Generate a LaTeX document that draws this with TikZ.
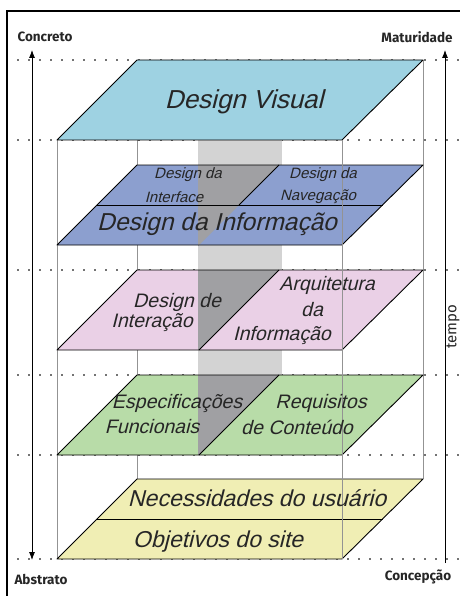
\documentclass[tikz,border=0pt]{standalone}
\usepackage{fontspec}
\setmainfont{Fira Sans}
\newfontfamily\planefont{Liberation Sans}[FakeSlant=0.25]
\usetikzlibrary{arrows.meta}
\definecolor{visual}{RGB}{158,210,226}
\definecolor{informacao}{RGB}{140,159,207}
\definecolor{interacao}{RGB}{234,208,230}
\definecolor{funcional}{RGB}{184,220,168}
\definecolor{usuario}{RGB}{240,238,180}
\definecolor{faixa}{RGB}{211,211,211}
\definecolor{faixaescura}{RGB}{160,160,163}
\tikzset{ponta/.tip={Latex[length=8pt,width=6pt]}}
\begin{document}
\begin{tikzpicture}[x=1pt,y=-1pt,
	plane/.style={draw=black,line width=0.9pt,line join=round},
	guide/.style={draw=gray!85,line width=0.7pt},
	dots/.style={draw=gray!90!black,line width=1.6pt,dash pattern=on 1.6pt off 9.4pt},
	eixo/.style={line width=0.8pt},
	rotulo/.style={font=\bfseries\fontsize{13.5}{15}\selectfont,text=black!85,inner sep=0pt},
	texto/.style={font=\planefont\fontsize{#1}{#1}\selectfont,text=black!85,inner sep=0pt}]
	\useasboundingbox (0,0) rectangle (460,596);
	% moldura
	\coordinate (F1) at (7,596);
	\coordinate (F2) at (7,11);
	\coordinate (F3) at (460,11);
	\draw [line width=2pt] (F1) -- (F2) -- (F3);
	% linhas pontilhadas
	\draw [dots] (17,60) -- (460,60);
	\draw [dots] (17,140) -- (460,140);
	\draw [dots] (17,270) -- (460,270);
	\draw [dots] (17,375) -- (460,375);
	\draw [dots] (17,455) -- (460,455);
	\draw [dots] (17,559) -- (460,559);
	% planos
	\coordinate (A1) at (137,60);
	\coordinate (B1) at (423,60);
	\coordinate (C1) at (342,140);
	\coordinate (D1) at (57,140);
	\coordinate (A2) at (137,165);
	\coordinate (B2) at (423,165);
	\coordinate (C2) at (342,245);
	\coordinate (D2) at (57,245);
	\coordinate (M2) at (97,205);
	\coordinate (N2) at (383,205);
	\coordinate (P2) at (279,165);
	\coordinate (Q2) at (239,205);
	\coordinate (A3) at (137,270);
	\coordinate (B3) at (423,270);
	\coordinate (C3) at (342,350);
	\coordinate (D3) at (57,350);
	\coordinate (P3) at (279,270);
	\coordinate (Q3) at (199,350);
	\coordinate (A4) at (137,375);
	\coordinate (B4) at (423,375);
	\coordinate (C4) at (342,455);
	\coordinate (D4) at (57,455);
	\coordinate (P4) at (279,375);
	\coordinate (Q4) at (199,455);
	\coordinate (A5) at (137,479);
	\coordinate (B5) at (423,479);
	\coordinate (C5) at (342,559);
	\coordinate (D5) at (57,559);
	\coordinate (M5) at (97,519);
	\coordinate (N5) at (383,519);
	% arestas de tras
	\draw [guide] (A1) -- (A5);
	\draw [guide] (B1) -- (B5);
	\draw [guide] (D1) -- (D5);
	% faixa cinza
	\fill [faixa] (198,140) rectangle (282,455);
	\fill [visual] (A1) -- (B1) -- (C1) -- (D1) -- cycle;
	\fill [informacao] (A2) -- (B2) -- (C2) -- (D2) -- cycle;
	\fill [interacao] (A3) -- (B3) -- (C3) -- (D3) -- cycle;
	\fill [funcional] (A4) -- (B4) -- (C4) -- (D4) -- cycle;
	\fill [usuario] (A5) -- (B5) -- (C5) -- (D5) -- cycle;
	\fill [faixaescura] (198,165) -- (P2) -- (198,246) -- cycle;
	\fill [faixaescura] (198,270) -- (P3) -- (Q3) -- (198,350) -- cycle;
	\fill [faixaescura] (198,375) -- (P4) -- (Q4) -- (198,455) -- cycle;
	\draw [plane] (A1) -- (B1) -- (C1) -- (D1) -- cycle;
	\draw [plane] (A2) -- (B2) -- (C2) -- (D2) -- cycle;
	\draw [plane] (A3) -- (B3) -- (C3) -- (D3) -- cycle;
	\draw [plane] (A4) -- (B4) -- (C4) -- (D4) -- cycle;
	\draw [plane] (A5) -- (B5) -- (C5) -- (D5) -- cycle;
	\draw [plane] (M2) -- (N2);
	\draw [plane] (P2) -- (Q2);
	\draw [plane] (P3) -- (Q3);
	\draw [plane] (P4) -- (Q4);
	\draw [plane] (M5) -- (N5);
	% aresta da frente
	\draw [guide] (C1) -- (C5);
	% eixos
	\coordinate (E1) at (32,50);
	\coordinate (E2) at (32,560);
	\coordinate (G1) at (445,50);
	\coordinate (G2) at (445,563);
	\draw [eixo,ponta-ponta] (E1) -- (E2);
	\draw [eixo,-ponta] (G2) -- (G1);
	\node [rotulo] (concreto) at (45,37) {Concreto};
	\node [rotulo] (maturidade) at (417,37) {Maturidade};
	\node [rotulo] (abstrato) at (41,579) {Abstrato};
	\node [rotulo] (concepcao) at (418,577) {Concepção};
	\node [font=\fontsize{15}{15}\selectfont,text=black!85,rotate=90,inner sep=0pt] (tempo) at (453,327) {tempo};
	% textos dos planos
	\node [texto=26] (visualtxt) at (244,102) {Design Visual};
	\node [texto=15] (interface1) at (188,175) {Design da};
	\node [texto=15] (interface2) at (174,197) {Interface};
	\node [texto=15] (navegacao1) at (323,175) {Design da};
	\node [texto=15] (navegacao2) at (318,197) {Navegação};
	\node [texto=24.5] (informacaotxt) at (217,224) {Design da Informação};
	\node [texto=19.5] (interacao1) at (177,302) {Design de};
	\node [texto=19.5] (interacao2) at (152,323) {Interação};
	\node [texto=19.5] (arquitetura1) at (327,285) {Arquitetura};
	\node [texto=19.5] (arquitetura2) at (312,310) {da};
	\node [texto=19.5] (arquitetura3) at (282,336) {Informação};
	\node [texto=19.5] (especificacoes1) at (177,403) {Especificações};
	\node [texto=19.5] (especificacoes2) at (152,427) {Funcionais};
	\node [texto=19.5] (requisitos1) at (321,403) {Requisitos};
	\node [texto=19.5] (requisitos2) at (297,427) {de Conteúdo};
	\node [texto=23] (usuariotxt) at (257,498) {Necessidades do usuário};
	\node [texto=23] (objetivostxt) at (218,542) {Objetivos do site};
\end{tikzpicture}
\end{document}
